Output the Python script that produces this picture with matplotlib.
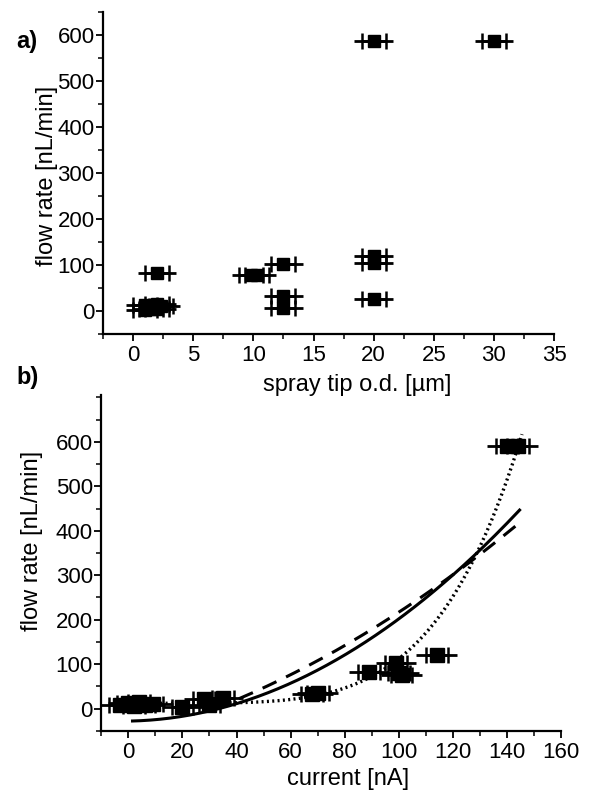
import numpy as np
import matplotlib.pyplot as plt
from matplotlib.ticker import MultipleLocator

plt.rcParams['font.family'] = ['Liberation Sans', 'DejaVu Sans']

# panel a: flow rate vs spray tip outer diameter
tip_od = [1.0, 1.5, 2.0, 2.0, 2.3, 1.0, 2.0, 9.8, 10.3, 12.5, 12.5, 12.5, 20.0, 20.0, 20.0, 20.0, 30.0]
flow_a = [12, 5, 15, 5, 10, 2, 82, 78, 78, 102, 33, 6, 587, 120, 105, 25, 587]
tip_err = [1.0] * len(tip_od)

# panel b: flow rate vs current
current = [-3, 0, 2, 4, 6, 9, 20, 28, 30, 35, 68, 70, 89, 99, 100, 101, 114, 140, 144]
flow_b = [8, 12, 5, 14, 8, 10, 3, 22, 8, 25, 33, 35, 82, 102, 80, 75, 120, 590, 590]
current_err = [4] * len(current)

# fitted curves (coefficients)
solid_fit = [0.022, 0.1, -28.0]        # quadratic
solid_range = [1, 145]
dashed_fit = [0.0117, 1.645, -64.5]    # quadratic
dashed_range = [32, 145]
dotted_fit = [12.0, 340.0, 129.0, 4.79]  # offset + scale*(x/x0)^n
dotted_range = [0, 145.5]

fig = plt.figure(figsize=(5.92, 7.91), dpi=100)
ax1 = fig.add_axes([0.174, 0.578, 0.762, 0.407])
ax2 = fig.add_axes([0.171, 0.076, 0.777, 0.425])
ax2.patch.set_visible(False)


def draw_points(ax, x, y, err, ext, ms):
    x = np.array(x, float)
    y = np.array(y, float)
    err = np.array(err, float)
    ax.errorbar(x, y, xerr=err + ext, fmt='none', ecolor='black', elinewidth=2.0, capsize=0)
    ax.errorbar(x, y, xerr=err, fmt='s', color='black', ms=ms, elinewidth=2.0,
                capsize=6, capthick=1.8)


def style(ax):
    for s in ['top', 'right']:
        ax.spines[s].set_visible(False)
    for s in ['left', 'bottom']:
        ax.spines[s].set_linewidth(1.6)
    ax.tick_params(which='major', direction='out', length=5, width=1.3, labelsize=16)
    ax.tick_params(which='minor', direction='out', length=3.5, width=1.1)
    ax.tick_params(axis='y', which='major', pad=1)
    ax.tick_params(axis='x', which='major', pad=3)


draw_points(ax1, tip_od, flow_a, tip_err, 0.6, 8.5)
ax1.set_xlim(-2.5, 35)
ax1.set_ylim(-50, 650)
ax1.set_xticks(np.arange(0, 36, 5))
ax1.set_yticks(np.arange(0, 601, 100))
ax1.xaxis.set_minor_locator(MultipleLocator(2.5))
ax1.yaxis.set_minor_locator(MultipleLocator(50))
style(ax1)
ax1.set_xlabel('spray tip o.d. [µm]', fontsize=17, va='center')
ax1.xaxis.set_label_coords(0.563, -0.16)
ax1.set_ylabel('flow rate [nL/min]', fontsize=17, va='center')
ax1.yaxis.set_label_coords(-0.124, 0.49)

draw_points(ax2, current, flow_b, current_err, 3.5, 10)
xs = np.linspace(solid_range[0], solid_range[1], 200)
ax2.plot(xs, np.polyval(solid_fit, xs), color='black', lw=2.2, solid_capstyle='butt')
xd = np.linspace(dashed_range[0], dashed_range[1], 200)
ax2.plot(xd, np.polyval(dashed_fit, xd), color='black', lw=2.2, dashes=(5, 3.5))
xt = np.linspace(dotted_range[0], dotted_range[1], 300)
yt = dotted_fit[0] + dotted_fit[1] * (xt / dotted_fit[2]) ** dotted_fit[3]
ax2.plot(xt, yt, color='black', lw=2.4, linestyle=(0, (0.6, 1.0)), dash_capstyle='butt')
ax2.set_xlim(-10, 160)
ax2.set_ylim(-50, 706)
ax2.set_xticks(np.arange(0, 161, 20))
ax2.set_yticks(np.arange(0, 601, 100))
ax2.xaxis.set_minor_locator(MultipleLocator(10))
ax2.yaxis.set_minor_locator(MultipleLocator(50))
style(ax2)
ax2.set_xlabel('current [nA]', fontsize=17, va='center')
ax2.xaxis.set_label_coords(0.537, -0.143)
ax2.set_ylabel('flow rate [nL/min]', fontsize=17, va='center')
ax2.yaxis.set_label_coords(-0.15, 0.566)

fig.text(0.027, 0.947, 'a)', fontsize=17, fontweight='bold', va='center')
fig.text(0.027, 0.523, 'b)', fontsize=17, fontweight='bold', va='center')

fig.savefig('out.png', dpi=100)
